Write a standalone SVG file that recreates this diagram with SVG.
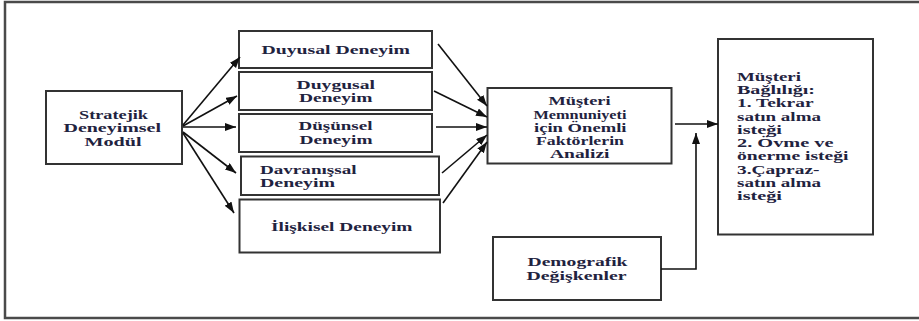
<svg xmlns="http://www.w3.org/2000/svg" width="919" height="321" viewBox="0 0 919 321">
  <style>
    .frame { fill: none; stroke: #4a4a4a; stroke-width: 2.5; }
    .box { fill: #ffffff; stroke: #333333; stroke-width: 2; }
    text { font-family: "Liberation Serif", "Times New Roman", serif; font-weight: bold; font-size: 13.5px; fill: #1f2340; }
    .edge { fill: none; stroke: #111111; stroke-width: 1.6; }
  </style>
  <defs>
    <marker id="arrow" markerUnits="userSpaceOnUse" markerWidth="12" markerHeight="9" refX="11" refY="4" orient="auto">
      <path d="M0,0 L11,4 L0,8 Z" fill="#111111"/>
    </marker>
  </defs>

  <rect x="0" y="0" width="919" height="321" fill="#ffffff"/>
  <!-- outer frame (right side runs past the canvas) -->
  <rect class="frame" x="5" y="2" width="930" height="316"/>

  <g id="stratejik">
    <rect class="box" x="46" y="91" width="136" height="73"/>
    <text x="79" y="118.5" textLength="69" lengthAdjust="spacingAndGlyphs">Stratejik</text>
    <text x="63.5" y="132" textLength="97.5" lengthAdjust="spacingAndGlyphs">Deneyimsel</text>
    <text x="84.5" y="146" textLength="57" lengthAdjust="spacingAndGlyphs">Modül</text>
  </g>

  <g id="duyusal">
    <rect class="box" x="239" y="31" width="193" height="37"/>
    <text x="261.5" y="53.5" textLength="148.5" lengthAdjust="spacingAndGlyphs">Duyusal Deneyim</text>
  </g>

  <g id="duygusal">
    <rect class="box" x="239" y="72" width="193" height="38"/>
    <text x="296.5" y="88.5" textLength="78.5" lengthAdjust="spacingAndGlyphs">Duygusal</text>
    <text x="299" y="101.5" textLength="73.5" lengthAdjust="spacingAndGlyphs">Deneyim</text>
  </g>

  <g id="dusunsel">
    <rect class="box" x="239" y="114" width="193" height="38"/>
    <text x="298.5" y="129.5" textLength="74" lengthAdjust="spacingAndGlyphs">Düşünsel</text>
    <text x="299.5" y="143.5" textLength="73" lengthAdjust="spacingAndGlyphs">Deneyim</text>
  </g>

  <g id="davranissal">
    <rect class="box" x="241" y="156.5" width="198" height="38.5"/>
    <text x="260" y="173.5" textLength="96.5" lengthAdjust="spacingAndGlyphs">Davranışsal</text>
    <text x="260" y="186.5" textLength="75" lengthAdjust="spacingAndGlyphs">Deneyim</text>
  </g>

  <g id="iliskisel">
    <rect class="box" x="239.5" y="199.5" width="200.5" height="53"/>
    <text x="271" y="231" textLength="141.5" lengthAdjust="spacingAndGlyphs">İlişkisel Deneyim</text>
  </g>

  <g id="memnuniyet">
    <rect class="box" x="487.5" y="88" width="184" height="75.5"/>
    <text x="548.5" y="105" textLength="62" lengthAdjust="spacingAndGlyphs">Müşteri</text>
    <text x="533.5" y="118.5" textLength="93" lengthAdjust="spacingAndGlyphs">Memnuniyeti</text>
    <text x="534" y="132" textLength="92.5" lengthAdjust="spacingAndGlyphs">için Önemli</text>
    <text x="536" y="145" textLength="88" lengthAdjust="spacingAndGlyphs">Faktörlerin</text>
    <text x="550" y="157.5" textLength="59.5" lengthAdjust="spacingAndGlyphs">Analizi</text>
  </g>

  <g id="baglilik">
    <rect class="box" x="718" y="39" width="155" height="195.5"/>
    <text x="737" y="80.5" textLength="64" lengthAdjust="spacingAndGlyphs">Müşteri</text>
    <text x="737" y="93.5" textLength="78" lengthAdjust="spacingAndGlyphs">Bağlılığı:</text>
    <text x="737" y="107" textLength="76.5" lengthAdjust="spacingAndGlyphs">1. Tekrar</text>
    <text x="737" y="120.5" textLength="84" lengthAdjust="spacingAndGlyphs">satın alma</text>
    <text x="737" y="134" textLength="45" lengthAdjust="spacingAndGlyphs">isteği</text>
    <text x="737" y="147" textLength="96.5" lengthAdjust="spacingAndGlyphs">2. Övme ve</text>
    <text x="737" y="160" textLength="111.5" lengthAdjust="spacingAndGlyphs">önerme isteği</text>
    <text x="737" y="173.5" textLength="82.5" lengthAdjust="spacingAndGlyphs">3.Çapraz-</text>
    <text x="737" y="187" textLength="84" lengthAdjust="spacingAndGlyphs">satın alma</text>
    <text x="737" y="200" textLength="45" lengthAdjust="spacingAndGlyphs">isteği</text>
  </g>

  <g id="demografik">
    <rect class="box" x="493" y="237" width="168" height="63"/>
    <text x="527.5" y="265.5" textLength="100" lengthAdjust="spacingAndGlyphs">Demografik</text>
    <text x="526.5" y="279.5" textLength="100" lengthAdjust="spacingAndGlyphs">Değişkenler</text>
  </g>

  <g id="connectors">
    <!-- module to the five experience types -->
    <line class="edge" x1="183" y1="125" x2="240" y2="57" marker-end="url(#arrow)"/>
    <line class="edge" x1="183" y1="126" x2="237" y2="96" marker-end="url(#arrow)"/>
    <line class="edge" x1="183" y1="127" x2="236" y2="127" marker-end="url(#arrow)"/>
    <line class="edge" x1="183" y1="132" x2="236" y2="173" marker-end="url(#arrow)"/>
    <line class="edge" x1="183" y1="133" x2="234" y2="213" marker-end="url(#arrow)"/>
    <!-- experience types to satisfaction analysis -->
    <line class="edge" x1="438" y1="44" x2="487" y2="106" marker-end="url(#arrow)"/>
    <line class="edge" x1="434" y1="91" x2="487" y2="117" marker-end="url(#arrow)"/>
    <line class="edge" x1="436" y1="127" x2="487" y2="127" marker-end="url(#arrow)"/>
    <line class="edge" x1="442" y1="173" x2="487" y2="135" marker-end="url(#arrow)"/>
    <line class="edge" x1="443" y1="203" x2="487" y2="142" marker-end="url(#arrow)"/>
    <!-- analysis to loyalty -->
    <line class="edge" x1="675" y1="124" x2="718" y2="124" marker-end="url(#arrow)"/>
    <!-- demographics joining in -->
    <polyline class="edge" points="661,269 696,269 696,133" marker-end="url(#arrow)"/>
  </g>
</svg>
